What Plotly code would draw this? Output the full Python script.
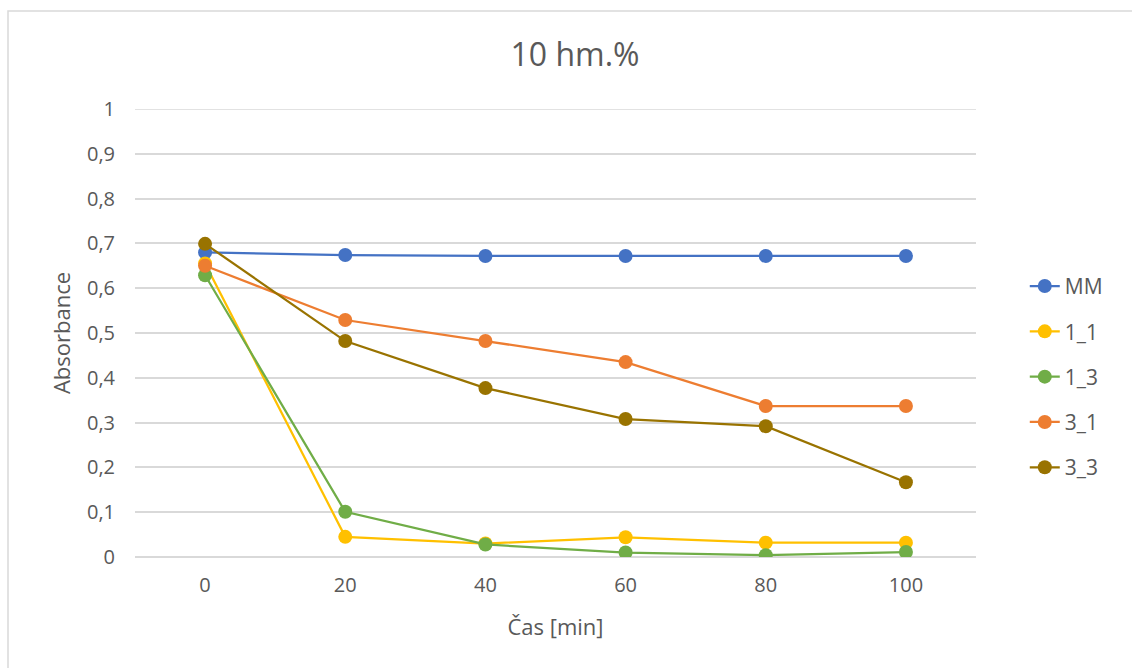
import plotly.graph_objects as go

time_min = [0, 20, 40, 60, 80, 100]
mm = [0.680, 0.674, 0.672, 0.672, 0.672, 0.672]
s1_1 = [0.655, 0.045, 0.030, 0.044, 0.032, 0.032]
s1_3 = [0.629, 0.101, 0.028, 0.010, 0.004, 0.011]
s3_1 = [0.650, 0.529, 0.482, 0.435, 0.337, 0.337]
s3_3 = [0.699, 0.482, 0.377, 0.308, 0.292, 0.167]
y_ticks = [0, 0.1, 0.2, 0.3, 0.4, 0.5, 0.6, 0.7, 0.8, 0.9, 1]
y_tick_text = ["0", "0,1", "0,2", "0,3", "0,4", "0,5", "0,6", "0,7", "0,8", "0,9", "1"]

series = [
    ("MM", mm, "#4472C4"),
    ("1_1", s1_1, "#FFC000"),
    ("1_3", s1_3, "#70AD47"),
    ("3_1", s3_1, "#ED7D31"),
    ("3_3", s3_3, "#997300"),
]

fig = go.Figure()
for name, vals, color in series:
    fig.add_trace(go.Scatter(
        x=time_min, y=vals, name=name, mode="lines+markers", legendgroup=name,
        line=dict(color=color, width=2.25),
        marker=dict(color=color, size=14),
    ))

font_color = "#595959"
grid_color = "#D9D9D9"
fig.update_layout(
    width=1132, height=668,
    paper_bgcolor="white", plot_bgcolor="white",
    margin=dict(l=135, r=156, t=109, b=111),
    font=dict(family="Open Sans, Calibri, sans-serif", color=font_color, size=18),
    title=dict(text="10 hm.%", x=0.508, xanchor="center", y=0.918, yanchor="middle",
               font=dict(size=32, color=font_color)),
    legend=dict(x=1.058, y=0.402, xanchor="left", yanchor="middle",
                font=dict(size=21, color=font_color), tracegroupgap=15,
                bgcolor="rgba(0,0,0,0)"),
    showlegend=True,
)
fig.update_xaxes(
    range=[-10, 110], tickvals=time_min, ticktext=[str(t) for t in time_min],
    showgrid=False, zeroline=False, showline=False,
    ticks="", tickfont=dict(size=20, color=font_color), ticklabelstandoff=14,
    title=dict(text="Čas [min]", font=dict(size=22, color=font_color), standoff=22),
)
fig.update_yaxes(
    range=[0, 1], tickvals=y_ticks, ticktext=y_tick_text,
    showgrid=True, gridcolor=grid_color, gridwidth=1.5, zeroline=True,
    zerolinecolor=grid_color, zerolinewidth=1.5, showline=False, ticks="",
    tickfont=dict(size=20, color=font_color), ticklabelstandoff=19,
    title=dict(text="Absorbance", font=dict(size=22, color=font_color), standoff=10),
)
# top gridline at y = 1 (plotly drops gridlines on the range edge)
fig.add_shape(type="line", xref="paper", yref="y", x0=0, x1=1, y0=y_ticks[-1], y1=y_ticks[-1],
              line=dict(color=grid_color, width=1.5), layer="below")
# chart border
fig.add_shape(type="rect", xref="paper", yref="paper",
              x0=-127 / 841, x1=1.3, y0=-0.5, y1=(557 - 11) / 448,
              line=dict(color=grid_color, width=1.5), fillcolor="rgba(0,0,0,0)", layer="below")
fig.write_html("out.html", config={"displayModeBar": False},
               post_script="document.body.style.margin='0';")
